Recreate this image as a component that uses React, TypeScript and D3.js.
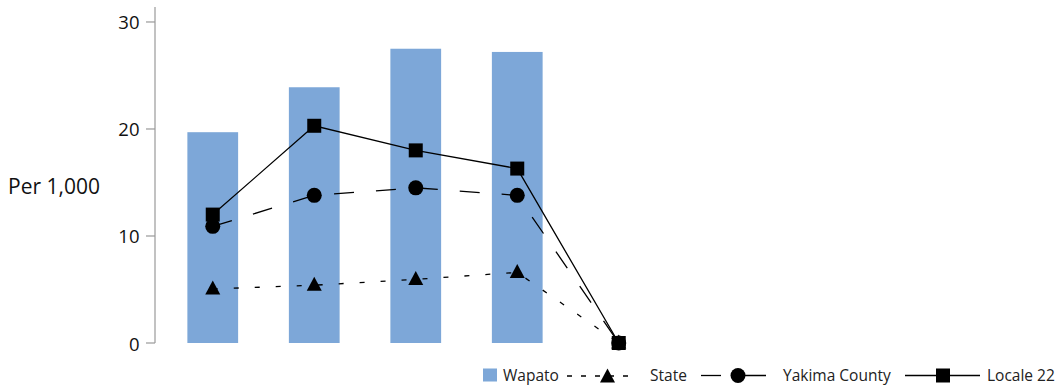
import React from "react";
import * as d3 from "d3";

const categories = ["P1", "P2", "P3", "P4", "P5"];
const wapato: (number | null)[] = [19.7, 23.9, 27.5, 27.2, null];
const stateVals = [5.05, 5.4, 5.95, 6.6, 0];
const yakimaVals = [10.9, 13.8, 14.5, 13.8, 0];
const localeVals = [12.0, 20.3, 18.0, 16.3, 0];
const yTicks = [0, 10, 20, 30];
const yLabel = "Per 1,000";
const legendLabels = ["Wapato", "State", "Yakima County", "Locale 22"];

const W = 1056;
const H = 386;
const FONT = "'Open Sans', 'Noto Sans', sans-serif";
const BAR = "#7da7d8";

function Marker({ type, x, y }: { type: string; x: number; y: number }) {
  if (type === "tri") {
    const s = 15;
    const h = 14;
    return (
      <path
        d={`M${x},${y - h * 0.6} L${x + s / 2},${y + h * 0.4} L${x - s / 2},${y + h * 0.4} Z`}
        fill="#000"
      />
    );
  }
  if (type === "circ") return <circle cx={x} cy={y} r={7.5} fill="#000" />;
  return <rect x={x - 7} y={y - 7} width={14} height={14} fill="#000" />;
}

export default function App() {
  const x = d3
    .scaleBand<string>()
    .domain(categories)
    .range([162, 669.5])
    .paddingInner(0.5)
    .paddingOuter(0.25);
  const y = d3.scaleLinear().domain([0, 31.4]).range([343, 7]);
  const cx = (c: string) => (x(c) as number) + x.bandwidth() / 2;

  const line = d3
    .line<number>()
    .x((_, i) => cx(categories[i]))
    .y((d) => y(d));

  const series = [
    { vals: stateVals, dash: "5,16", marker: "tri" },
    { vals: yakimaVals, dash: "20,22", marker: "circ" },
    { vals: localeVals, dash: "none", marker: "sq" },
  ];

  const axisX = 155;
  const ly = 374.5;

  return (
    <svg
      width={W}
      height={H}
      style={{ position: "absolute", left: 0, top: 0, background: "#fff" }}
      fontFamily={FONT}
    >
      {/* bars */}
      {categories.map((c, i) =>
        wapato[i] == null ? null : (
          <rect
            key={c}
            x={x(c)}
            y={y(wapato[i] as number)}
            width={x.bandwidth()}
            height={y(0) - y(wapato[i] as number)}
            fill={BAR}
          />
        )
      )}
      {/* y axis */}
      <line x1={axisX} x2={axisX} y1={y(31.4)} y2={y(0)} stroke="#999" strokeWidth={1.2} />
      {yTicks.map((t) => (
        <g key={t}>
          <line x1={axisX - 9} x2={axisX} y1={y(t)} y2={y(t)} stroke="#999" strokeWidth={1.2} />
          <text
            x={axisX - 15.5}
            y={y(t)}
            textAnchor="end"
            dominantBaseline="central"
            fontSize={18.5}
            fill="#111"
          >
            {t}
          </text>
        </g>
      ))}
      <text x={8} y={186} dominantBaseline="central" fontSize={21} fill="#111">
        {yLabel}
      </text>
      {/* lines */}
      {series.map((s, k) => (
        <g key={k}>
          <path
            d={line(s.vals) || ""}
            fill="none"
            stroke="#000"
            strokeWidth={1.3}
            strokeDasharray={s.dash}
          />
          {s.vals.map((v, i) => (
            <Marker key={i} type={s.marker} x={cx(categories[i])} y={y(v)} />
          ))}
        </g>
      ))}
      {/* legend */}
      <g fontSize={15.5} fill="#222">
        <rect x={483} y={368.5} width={14} height={13} fill={BAR} />
        <text x={503} y={ly} dominantBaseline="central">{legendLabels[0]}</text>

        <line x1={567} x2={636} y1={376} y2={376} stroke="#000" strokeWidth={1.3} strokeDasharray="5,9" />
        <Marker type="tri" x={607.5} y={377} />
        <text x={650} y={ly} dominantBaseline="central">{legendLabels[1]}</text>

        <line x1={701} x2={721} y1={375.5} y2={375.5} stroke="#000" strokeWidth={1.3} />
        <line x1={731} x2={766} y1={375.5} y2={375.5} stroke="#000" strokeWidth={1.3} />
        <Marker type="circ" x={738} y={375.5} />
        <text x={783} y={ly} dominantBaseline="central">{legendLabels[2]}</text>

        <line x1={905} x2={980} y1={375.5} y2={375.5} stroke="#000" strokeWidth={1.3} />
        <Marker type="sq" x={943} y={375.5} />
        <text x={987} y={ly} dominantBaseline="central">{legendLabels[3]}</text>
      </g>
    </svg>
  );
}
